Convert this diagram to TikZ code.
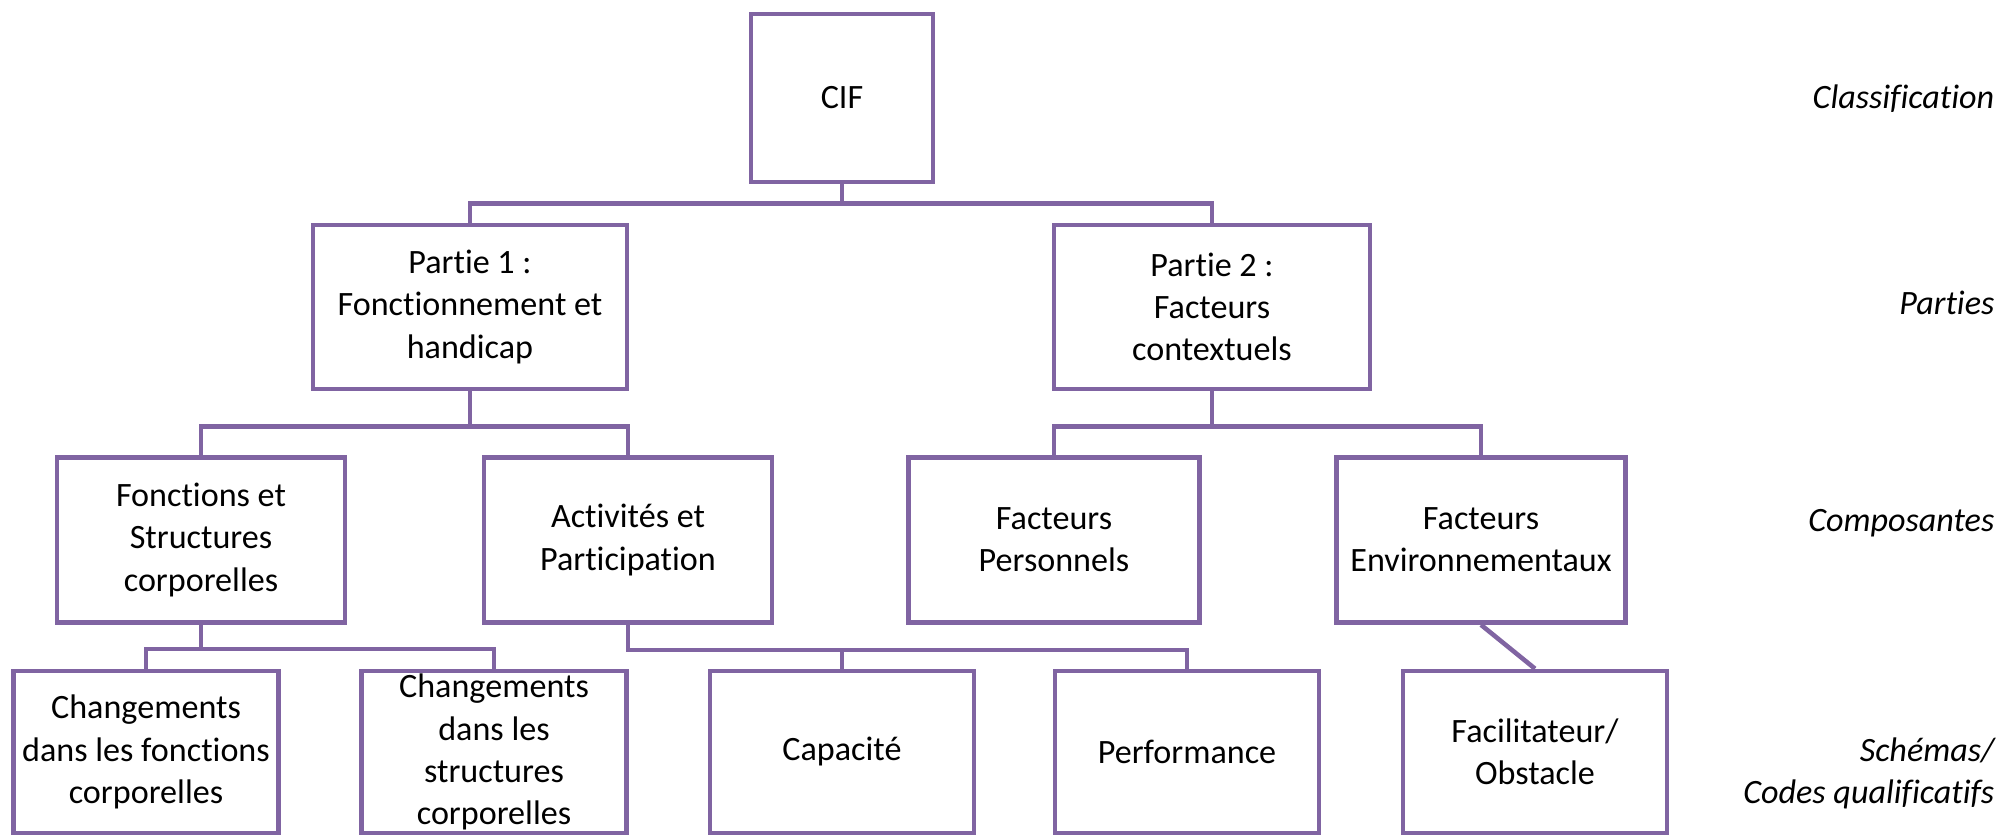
\documentclass[tikz,border=0pt]{standalone}
\usepackage{fontspec}
\setmainfont{Carlito}[Ligatures=NoCommon]
\definecolor{cifpurple}{RGB}{128,100,162}
\begin{document}
\begin{tikzpicture}[x=0.01cm,y=-0.01cm]

    \tikzset{boxstyle/.style={draw=cifpurple,line width=1.3pt,align=center,inner sep=0pt,
                              font=\fontsize{9.7}{12}\selectfont}}
    \tikzset{levelstyle/.style={anchor=east,align=right,inner sep=0pt,
                                font=\fontsize{9.7}{12}\selectfont\itshape}}
    \useasboundingbox (0,0) rectangle (2006,836);

    \node[boxstyle,minimum width=1.82cm,minimum height=1.68cm] (cif) at (842,98) {CIF};

    \node[boxstyle,minimum width=3.14cm,minimum height=1.64cm] (p1) at (470,307) {Partie 1 :\\Fonctionnement et\\handicap};
    \node[boxstyle,minimum width=3.16cm,minimum height=1.64cm] (p2) at (1212,307) {Partie 2 :\\Facteurs\\contextuels};

    \node[boxstyle,minimum width=2.88cm,minimum height=1.65cm] (fsc) at (201,540) {Fonctions et\\Structures\\corporelles};
    \node[boxstyle,minimum width=2.88cm,minimum height=1.65cm] (act) at (628,540) {Activités et\\Participation};
    \node[boxstyle,minimum width=2.91cm,minimum height=1.65cm] (fpers) at (1054,540) {Facteurs\\Personnels};
    \node[boxstyle,minimum width=2.89cm,minimum height=1.65cm] (fenv) at (1481,540) {Facteurs\\Environnementaux};

    \node[boxstyle,minimum width=2.65cm,minimum height=1.62cm] (chgf) at (146,752) {Changements\\dans les fonctions\\corporelles};
    \node[boxstyle,minimum width=2.65cm,minimum height=1.62cm] (chgs) at (494,752) {Changements\\dans les\\structures\\corporelles};
    \node[boxstyle,minimum width=2.64cm,minimum height=1.62cm] (cap) at (842,752) {Capacité};
    \node[boxstyle,minimum width=2.64cm,minimum height=1.62cm] (perf) at (1187,752) {Performance};
    \node[boxstyle,minimum width=2.64cm,minimum height=1.62cm] (facil) at (1535,752) {Facilitateur/\\Obstacle};

    \begin{scope}[every path/.style={draw=cifpurple,line width=1.3pt}]
        \draw (cif.south) -- ++(0,19) -| (p1.north);
        \draw (cif.south) -- ++(0,19) -| (p2.north);

        \draw (p1.south) -- ++(0,35) -| (fsc.north);
        \draw (p1.south) -- ++(0,35) -| (act.north);
        \draw (p2.south) -- ++(0,35) -| (fpers.north);
        \draw (p2.south) -- ++(0,35) -| (fenv.north);

        \draw (fsc.south) -- ++(0,24) -| (chgf.north);
        \draw (fsc.south) -- ++(0,24) -| (chgs.north);
        \draw (act.south) -- ++(0,25) -| (cap.north);
        \draw (act.south) -- ++(0,25) -| (perf.north);
        \draw (fenv.south) -- (facil.north);
    \end{scope}

    % niveaux
    \node[levelstyle] (lclass) at (1995,99) {Classification};
    \node[levelstyle] (lpart) at (1995,303) {Parties};
    \node[levelstyle] (lcomp) at (1995,523) {Composantes};
    \node[levelstyle] (lcode) at (1995,773) {Schémas/\\Codes qualificatifs};

\end{tikzpicture}
\end{document}
